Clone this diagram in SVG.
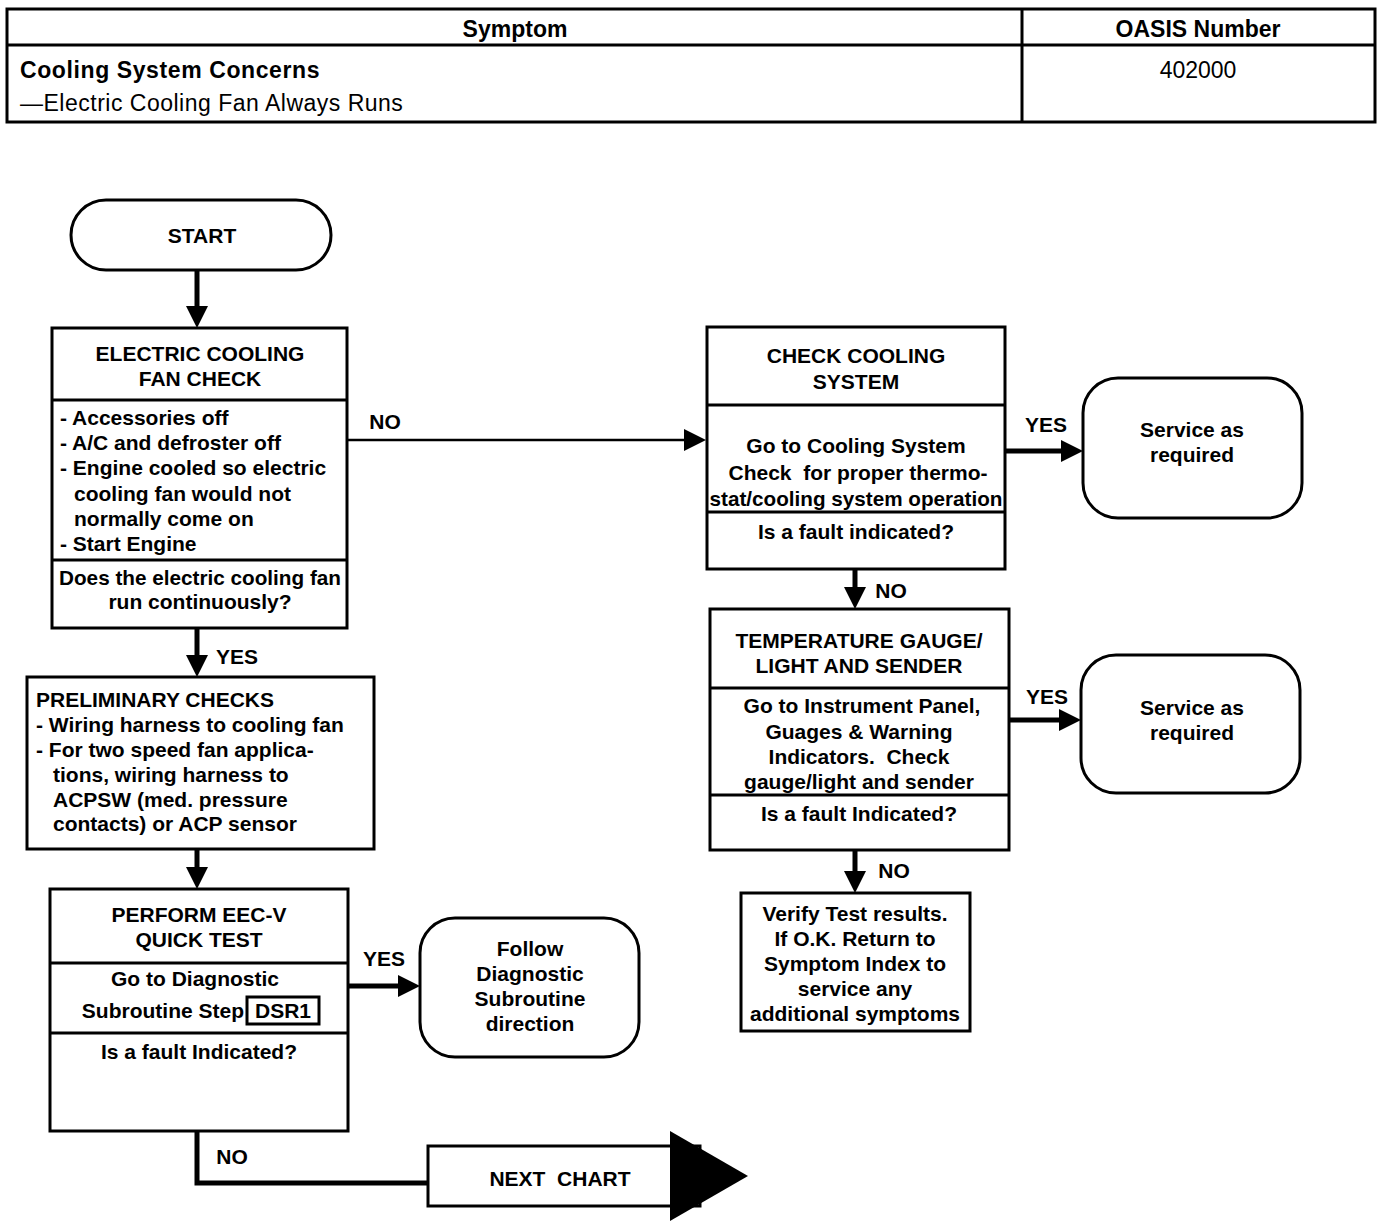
<svg xmlns="http://www.w3.org/2000/svg" width="1392" height="1228" viewBox="0 0 1392 1228">
<defs>
<style>
.box{fill:#fff;stroke:#000;stroke-width:3}
.div{stroke:#000;stroke-width:3}
.t{font-family:"Liberation Sans",Arial,sans-serif;font-weight:bold;font-size:21px;fill:#000}
.m{text-anchor:middle}
.h{font-family:"Liberation Sans",Arial,sans-serif;font-size:23px;fill:#000}
.hb{font-weight:bold}
.c{fill:none;stroke:#000;stroke-width:5}
.thin{stroke-width:2.5}
.pre{white-space:pre}
</style>
<marker id="ah" markerUnits="userSpaceOnUse" markerWidth="22" markerHeight="22" viewBox="0 0 22 22" refX="12" refY="11" orient="auto">
<path d="M0,0 L22,11 L0,22 z" fill="#000"/>
</marker>
</defs>
<rect width="1392" height="1228" fill="#fff"/>

<g id="header">
<rect x="7" y="9" width="1368" height="113" class="box"/>
<line x1="7" y1="45" x2="1375" y2="45" class="div"/>
<line x1="1022" y1="9" x2="1022" y2="122" class="div"/>
<text x="515" y="37" class="h hb m">Symptom</text>
<text x="1198" y="37" class="h hb m">OASIS Number</text>
<text x="20" y="78" class="h hb" letter-spacing="0.6">Cooling System Concerns</text>
<text x="20" y="111" class="h" letter-spacing="0.5">—Electric Cooling Fan Always Runs</text>
<text x="1198" y="78" class="h m">402000</text>
</g>

<g id="connectors">
<line x1="197" y1="270" x2="197" y2="318" class="c" stroke-width="4" marker-end="url(#ah)"/>
<line x1="347" y1="440" x2="696" y2="440" class="c thin" marker-end="url(#ah)"/>
<line x1="197" y1="628" x2="197" y2="667" class="c" marker-end="url(#ah)"/>
<line x1="197" y1="849" x2="197" y2="879" class="c" marker-end="url(#ah)"/>
<line x1="348" y1="986" x2="410" y2="986" class="c" marker-end="url(#ah)"/>
<polyline points="197,1131 197,1183 428,1183" class="c"/>
<line x1="1005" y1="451" x2="1073" y2="451" class="c" marker-end="url(#ah)"/>
<line x1="855" y1="569" x2="855" y2="599" class="c" marker-end="url(#ah)"/>
<line x1="1009" y1="720" x2="1071" y2="720" class="c" marker-end="url(#ah)"/>
<line x1="855" y1="850" x2="855" y2="883" class="c" marker-end="url(#ah)"/>
<text x="385" y="429" class="t m">NO</text>
<text x="237" y="664" class="t m">YES</text>
<text x="384" y="966" class="t m">YES</text>
<text x="232" y="1164" class="t m">NO</text>
<text x="1046" y="432" class="t m">YES</text>
<text x="891" y="598" class="t m">NO</text>
<text x="1047" y="704" class="t m">YES</text>
<text x="894" y="878" class="t m">NO</text>
</g>

<g id="start">
<rect x="71" y="200" width="260" height="70" rx="35" class="box"/>
<text x="202" y="243" class="t m">START</text>
</g>

<g id="fan-check">
<rect x="52" y="328" width="295" height="300" class="box"/>
<line x1="52" y1="400" x2="347" y2="400" class="div"/>
<line x1="52" y1="560" x2="347" y2="560" class="div"/>
<text x="200" y="361" class="t m">ELECTRIC COOLING</text>
<text x="200" y="386" class="t m">FAN CHECK</text>
<text x="60" y="425" class="t">- Accessories off</text>
<text x="60" y="450" class="t">- A/C and defroster off</text>
<text x="60" y="475" class="t">- Engine cooled so electric</text>
<text x="74" y="501" class="t">cooling fan would not</text>
<text x="74" y="526" class="t">normally come on</text>
<text x="60" y="551" class="t">- Start Engine</text>
<text x="200" y="585" class="t m" textLength="282" lengthAdjust="spacingAndGlyphs">Does the electric cooling fan</text>
<text x="200" y="609" class="t m">run continuously?</text>
</g>

<g id="preliminary">
<rect x="27" y="677" width="347" height="172" class="box"/>
<text x="36" y="707" class="t">PRELIMINARY CHECKS</text>
<text x="36" y="732" class="t">- Wiring harness to cooling fan</text>
<text x="36" y="757" class="t">- For two speed fan applica-</text>
<text x="53" y="782" class="t">tions, wiring harness to</text>
<text x="53" y="807" class="t">ACPSW (med. pressure</text>
<text x="53" y="831" class="t">contacts) or ACP sensor</text>
</g>

<g id="quick-test">
<rect x="50" y="889" width="298" height="242" class="box"/>
<line x1="50" y1="963" x2="348" y2="963" class="div"/>
<line x1="50" y1="1033" x2="348" y2="1033" class="div"/>
<text x="199" y="922" class="t m">PERFORM EEC-V</text>
<text x="199" y="947" class="t m">QUICK TEST</text>
<text x="195" y="986" class="t m">Go to Diagnostic</text>
<text x="244" y="1018" class="t" text-anchor="end">Subroutine Step</text>
<rect x="247" y="997" width="72" height="27" fill="none" stroke="#000" stroke-width="3"/>
<text x="283" y="1018" class="t m">DSR1</text>
<text x="199" y="1059" class="t m">Is a fault Indicated?</text>
</g>

<g id="follow">
<rect x="420" y="918" width="219" height="139" rx="35" class="box"/>
<text x="530" y="956" class="t m">Follow</text>
<text x="530" y="981" class="t m">Diagnostic</text>
<text x="530" y="1006" class="t m">Subroutine</text>
<text x="530" y="1031" class="t m">direction</text>
</g>

<g id="next-chart">
<rect x="428" y="1146" width="272" height="60" class="box"/>
<polygon points="670,1131 748,1176 670,1221" fill="#000"/>
<text x="560" y="1186" class="t m pre" font-size="22" xml:space="preserve">NEXT  CHART</text>
</g>

<g id="check-cooling">
<rect x="707" y="327" width="298" height="242" class="box"/>
<line x1="707" y1="405" x2="1005" y2="405" class="div"/>
<line x1="707" y1="512" x2="1005" y2="512" class="div"/>
<text x="856" y="363" class="t m">CHECK COOLING</text>
<text x="856" y="389" class="t m">SYSTEM</text>
<text x="856" y="453" class="t m">Go to Cooling System</text>
<text x="858" y="480" class="t m pre" xml:space="preserve">Check  for proper thermo-</text>
<text x="856" y="506" class="t m" textLength="293" lengthAdjust="spacingAndGlyphs">stat/cooling system operation</text>
<text x="856" y="539" class="t m">Is a fault indicated?</text>
</g>

<g id="service-1">
<rect x="1083" y="378" width="219" height="140" rx="35" class="box"/>
<text x="1192" y="437" class="t m">Service as</text>
<text x="1192" y="462" class="t m">required</text>
</g>

<g id="temp-gauge">
<rect x="710" y="609" width="299" height="241" class="box"/>
<line x1="710" y1="688" x2="1009" y2="688" class="div"/>
<line x1="710" y1="795" x2="1009" y2="795" class="div"/>
<text x="859" y="648" class="t m">TEMPERATURE GAUGE/</text>
<text x="859" y="673" class="t m">LIGHT AND SENDER</text>
<text x="862" y="713" class="t m">Go to Instrument Panel,</text>
<text x="859" y="739" class="t m">Guages &amp; Warning</text>
<text x="859" y="764" class="t m pre" xml:space="preserve">Indicators.  Check</text>
<text x="859" y="789" class="t m">gauge/light and sender</text>
<text x="859" y="821" class="t m">Is a fault Indicated?</text>
</g>

<g id="service-2">
<rect x="1081" y="655" width="219" height="138" rx="35" class="box"/>
<text x="1192" y="715" class="t m">Service as</text>
<text x="1192" y="740" class="t m">required</text>
</g>

<g id="verify">
<rect x="741" y="893" width="229" height="138" class="box"/>
<text x="855" y="921" class="t m">Verify Test results.</text>
<text x="855" y="946" class="t m">If O.K. Return to</text>
<text x="855" y="971" class="t m">Symptom Index to</text>
<text x="855" y="996" class="t m">service any</text>
<text x="855" y="1021" class="t m">additional symptoms</text>
</g>
</svg>
